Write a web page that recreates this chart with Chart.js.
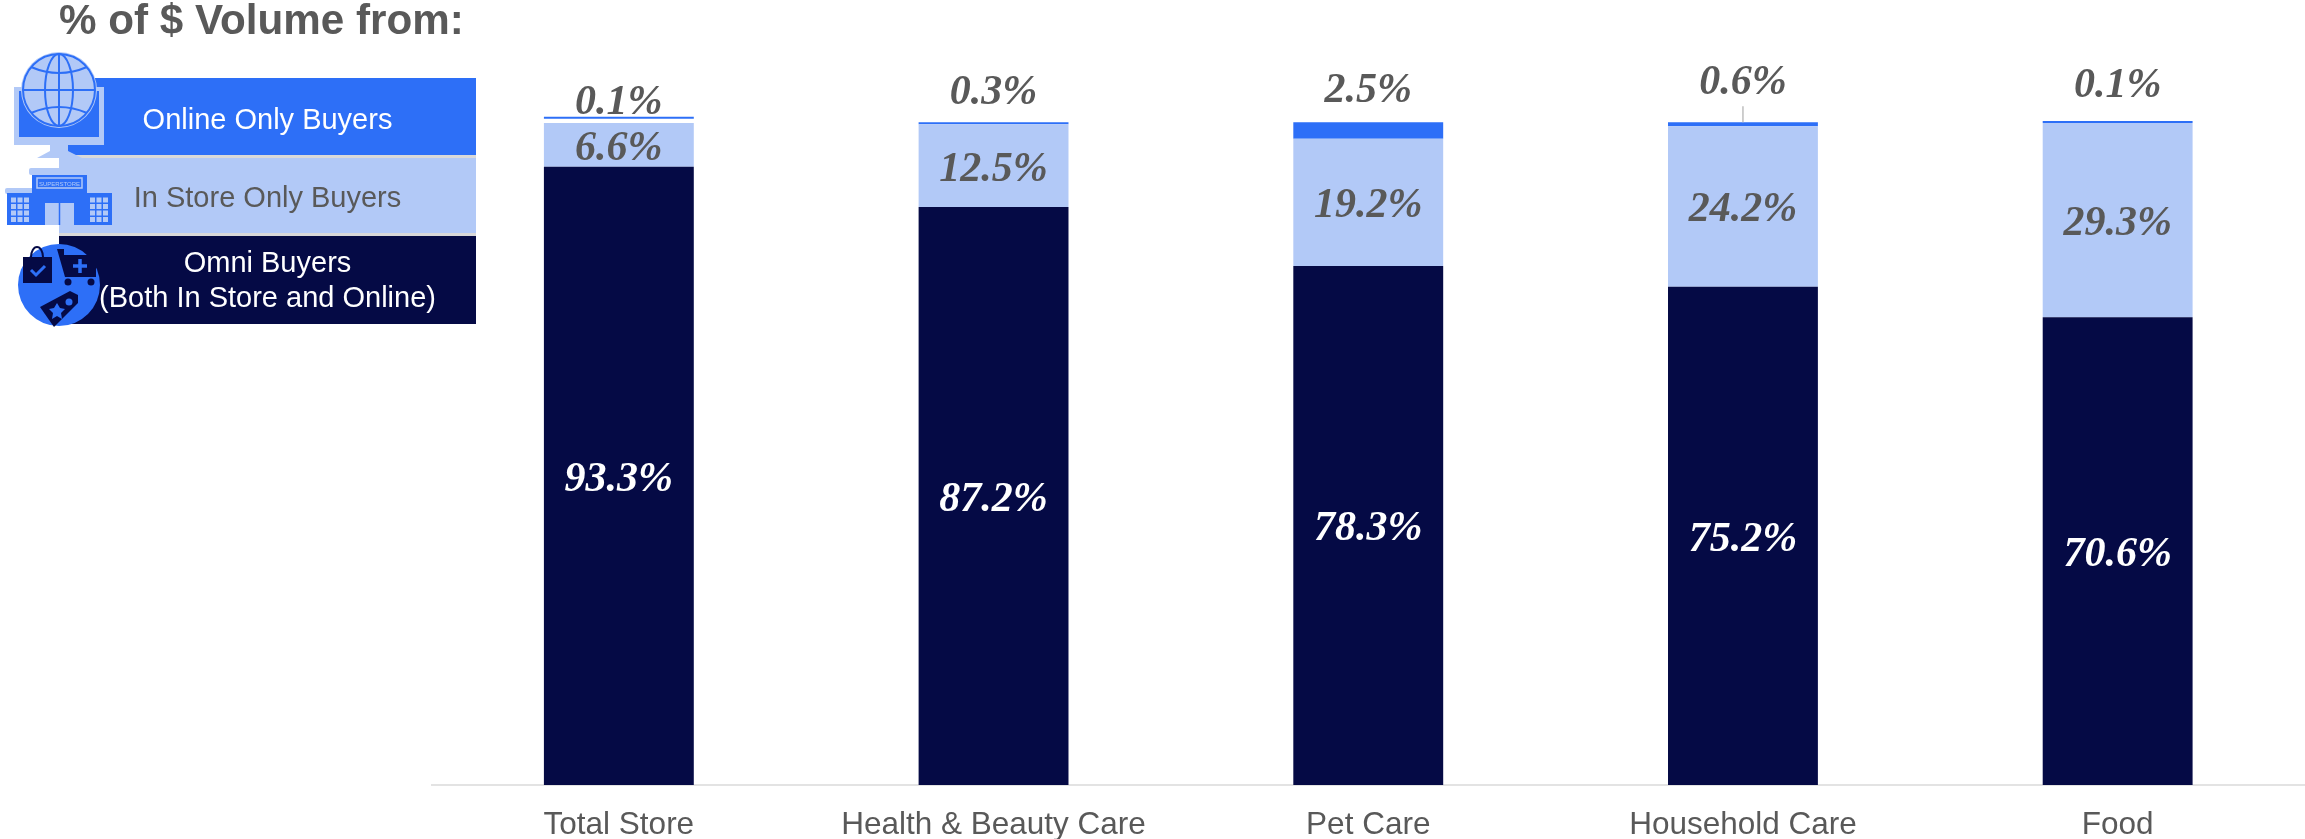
<!DOCTYPE html>
<html>
<head>
<meta charset="utf-8">
<script src="https://cdn.jsdelivr.net/npm/chart.js"></script>
<style>
  body { margin: 0; background: #fff; font-family: "Liberation Sans", Arial, sans-serif; }
  #wrap { position: relative; width: 2305px; height: 839px; overflow: hidden; }
  #myChart { position: absolute; left: 0; top: 0; }
  .title { position: absolute; left: 59px; top: -4px; font-size: 42.2px; font-weight: bold; color: #595959; white-space: nowrap; }
  .key { position: absolute; left: 57px; width: 417px; padding-left: 2px; display: flex; align-items: center; justify-content: center; text-align: center; font-size: 29px; line-height: 35px; box-sizing: content-box; }
  svg { position: absolute; left: 0; top: 0; }
</style>
</head>
<body>
<div id="wrap">
  <canvas id="myChart" width="2305" height="839"></canvas>
  <div class="title">% of $ Volume from:</div>

  <div style="position:absolute;left:59px;top:78px;width:417px;height:77px;background:#2d6ff7"></div>
  <div style="position:absolute;left:59px;top:155px;width:417px;height:3px;background:#d9d9d9"></div>
  <div style="position:absolute;left:59px;top:158px;width:417px;height:75px;background:#b2c9f7"></div>
  <div style="position:absolute;left:59px;top:233px;width:417px;height:3px;background:#d9d9d9"></div>
  <div style="position:absolute;left:59px;top:236px;width:417px;height:88px;background:#050a45"></div>
  <div class="key" style="top:81px;height:77px;color:#fff">Online Only Buyers</div>
  <div class="key" style="top:160px;height:75px;color:#595959">In Store Only Buyers</div>
  <div class="key" style="top:236px;height:88px;color:#fff">Omni Buyers<br>(Both In Store and Online)</div>

  <!-- legend icons -->
  <svg width="130" height="340" viewBox="0 0 130 340">
    <!-- monitor + globe -->
    <rect x="14" y="87" width="90" height="58" fill="#b2c9f7"/>
    <rect x="19" y="91" width="80" height="46" fill="#2d6ff7"/>
    <polygon points="50,145 68,145 68,151 82,158 37,158 50,151" fill="#b2c9f7"/>
    <circle cx="59" cy="90" r="38" fill="#b2c9f7"/>
    <g fill="none" stroke="#2d6ff7" stroke-width="2">
      <circle cx="59" cy="90" r="36"/>
      <ellipse cx="59" cy="90" rx="14" ry="36"/>
      <line x1="59" y1="54" x2="59" y2="126"/>
      <line x1="23" y1="90" x2="95" y2="90"/>
      <path d="M31 67 Q59 79 87 67"/>
      <path d="M31 113 Q59 101 87 113"/>
    </g>
    <!-- store -->
    <rect x="29" y="168" width="59" height="7" rx="2" fill="#b2c9f7"/>
    <rect x="5" y="188" width="107" height="6" rx="2" fill="#b2c9f7"/>
    <rect x="32" y="175" width="55" height="19" fill="#2d6ff7"/>
    <rect x="37" y="178" width="45" height="10" fill="none" stroke="#b2c9f7" stroke-width="1.5"/>
    <text x="59.5" y="185.5" font-size="6" fill="#b2c9f7" text-anchor="middle" font-family="Liberation Sans">SUPERSTORE</text>
    <rect x="7" y="193" width="105" height="32" fill="#2d6ff7"/>
    <rect x="45" y="203" width="29" height="22" fill="#b2c9f7"/>
    <line x1="59.5" y1="203" x2="59.5" y2="225" stroke="#2d6ff7" stroke-width="1.5"/>
    <g fill="none" stroke="#b2c9f7" stroke-width="5" stroke-dasharray="5 1.5">
      <line x1="11" y1="200" x2="29" y2="200"/><line x1="11" y1="206.5" x2="29" y2="206.5"/>
      <line x1="11" y1="213" x2="29" y2="213"/><line x1="11" y1="219.5" x2="29" y2="219.5"/>
      <line x1="90" y1="200" x2="108" y2="200"/><line x1="90" y1="206.5" x2="108" y2="206.5"/>
      <line x1="90" y1="213" x2="108" y2="213"/><line x1="90" y1="219.5" x2="108" y2="219.5"/>
    </g>
    <!-- omni circle -->
    <circle cx="59" cy="285" r="41" fill="#2d6ff7"/>
    <path d="M31 257 a6 10 0 0 1 12 0" fill="none" stroke="#050a45" stroke-width="2"/>
    <rect x="23" y="257" width="29" height="26" fill="#050a45"/>
    <path d="M31 270 l5 5 l9 -9" fill="none" stroke="#2d6ff7" stroke-width="3"/>
    <path d="M57 249 h7 v6 h32 v22 h-31 z" fill="#050a45"/>
    <circle cx="68" cy="282" r="3.5" fill="#050a45"/><circle cx="91" cy="282" r="3.5" fill="#050a45"/>
    <path d="M80 259 v14 M73 266 h14" stroke="#2d6ff7" stroke-width="3.5"/>
    <path d="M40 307 L70 291 L78 295 L78 303 L54 327 z" fill="#050a45"/>
    <circle cx="69" cy="302" r="3.5" fill="#2d6ff7"/>
    <polygon points="57,303 60,308 65,309 61,313 62,319 57,316 52,319 53,313 49,309 54,308" fill="#2d6ff7"/>
  </svg>
</div>

<script>
// 資料定義區塊
const categories = ['Total Store', 'Health & Beauty Care', 'Pet Care', 'Household Care', 'Food'];
const omniBuyers = [93.3, 87.2, 78.3, 75.2, 70.6];
const inStoreOnly = [6.6, 12.5, 19.2, 24.2, 29.3];
const onlineOnly = [0.1, 0.3, 2.5, 0.6, 0.1];
// thin white space above the Total Store stack
const onlineGap = [0.65, 0, 0, 0, 0];

// how far the online labels sit above their bar (px)
const onlineLift = [13, 29, 31, 39, 35];
const labelNudge = [4, 4, 4, 4, 4];
const leaderLines = [false, false, false, true, false];

const NAVY = '#050a45';
const LIGHT = '#b2c9f7';
const BLUE = '#2d6ff7';
const GREY = '#595959';

const barLabels = {
    id: 'barLabels',
    afterDatasetsDraw(chart) {
        const ctx = chart.ctx;
        ctx.save();
        ctx.font = 'italic bold 42px "Liberation Serif"';
        ctx.textAlign = 'center';
        ctx.textBaseline = 'middle';

        chart.getDatasetMeta(0).data.forEach((bar, i) => {
            ctx.fillStyle = '#ffffff';
            ctx.fillText(omniBuyers[i].toFixed(1) + '%', bar.x, (bar.y + bar.base) / 2 + labelNudge[i]);
        });
        chart.getDatasetMeta(1).data.forEach((bar, i) => {
            ctx.fillStyle = GREY;
            ctx.fillText(inStoreOnly[i].toFixed(1) + '%', bar.x, (bar.y + bar.base) / 2 + labelNudge[i]);
        });
        chart.getDatasetMeta(3).data.forEach((bar, i) => {
            ctx.fillStyle = GREY;
            ctx.fillText(onlineOnly[i].toFixed(1) + '%', bar.x, bar.y - onlineLift[i]);
            if (leaderLines[i]) {
                ctx.strokeStyle = '#bfbfbf';
                ctx.lineWidth = 1.5;
                ctx.beginPath();
                ctx.moveTo(bar.x, bar.y - 16);
                ctx.lineTo(bar.x, bar.y);
                ctx.stroke();
            }
        });
        ctx.restore();
    }
};

const config = {
    type: 'bar',
    data: {
        labels: categories,
        datasets: [
            { label: 'Omni Buyers', data: omniBuyers, backgroundColor: NAVY },
            { label: 'In Store Only Buyers', data: inStoreOnly, backgroundColor: LIGHT },
            { label: 'gap', data: onlineGap, backgroundColor: 'rgba(0,0,0,0)' },
            { label: 'Online Only Buyers', data: onlineOnly, backgroundColor: BLUE, minBarLength: 2 }
        ]
    },
    options: {
        responsive: false,
        animation: false,
        datasets: { bar: { categoryPercentage: 0.4, barPercentage: 1 } },
        layout: { padding: { left: 431.5, right: 0, top: 3, bottom: 0 } },
        plugins: { legend: { display: false }, tooltip: { enabled: false } },
        scales: {
            x: {
                stacked: true,
                afterFit(scale) { scale.height = 54; },
                grid: { display: false },
                border: { display: true, color: '#e3e3e3', width: 2 },
                ticks: { color: GREY, font: { family: '"Liberation Sans"', size: 31.5 }, padding: 13, maxRotation: 0, autoSkip: false }
            },
            y: {
                stacked: true,
                display: false,
                min: 0,
                max: 118
            }
        }
    },
    plugins: [barLabels]
};

var ctx = document.getElementById('myChart').getContext('2d');
var myChart = new Chart(ctx, config);
</script>
</body>
</html>
